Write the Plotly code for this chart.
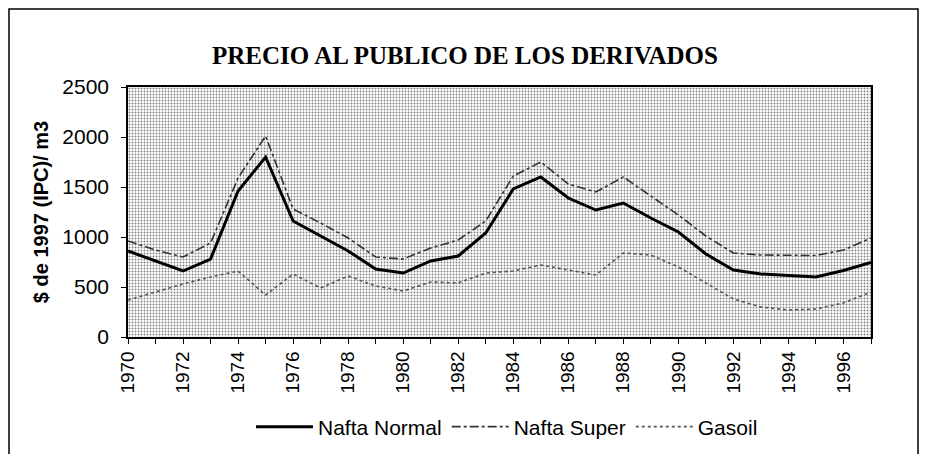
import plotly.graph_objects as go

years = list(range(1970, 1998))
nafta_normal = [860, 760, 660, 780, 1460, 1800, 1160, 1010, 860, 680, 640, 760, 810, 1040,
                1480, 1600, 1390, 1270, 1340, 1190, 1050, 830, 670, 630, 615, 600, 665, 745]
nafta_super = [960, 870, 800, 940, 1590, 2010, 1280, 1140, 990, 800, 780, 890, 970, 1160,
               1610, 1750, 1530, 1450, 1600, 1410, 1220, 1010, 840, 820, 820, 815, 870, 990]
gasoil = [370, 450, 530, 600, 660, 420, 630, 490, 610, 510, 460, 550, 540, 640,
          660, 720, 670, 620, 840, 820, 700, 540, 380, 300, 270, 280, 340, 450]
tick_years = list(range(1970, 1998, 2))
y_ticks = [0, 500, 1000, 1500, 2000, 2500]

W, H = 925, 454
ML, MR, MT, MB = 128, 54, 87, 117
x_range = [years[0], years[-1]]
y_range = [y_ticks[0], y_ticks[-1]]

fig = go.Figure()

# stippled plot-area background
fig.add_trace(go.Scatter(
    x=[x_range[0], x_range[1], x_range[1], x_range[0], x_range[0]],
    y=[y_range[0], y_range[0], y_range[1], y_range[1], y_range[0]],
    fill="toself", mode="none", showlegend=False, hoverinfo="skip",
    fillcolor="#ffffff",
    fillpattern=dict(shape=".", size=3, solidity=0.3, fgcolor="#000000", bgcolor="#ffffff"),
))

fig.add_trace(go.Scatter(x=years, y=nafta_normal, mode="lines", name="Nafta Normal",
                         line=dict(color="#000000", width=3)))
fig.add_trace(go.Scatter(x=years, y=nafta_super, mode="lines", name="Nafta Super",
                         line=dict(color="#333333", width=1.6, dash="dashdot")))
fig.add_trace(go.Scatter(x=years, y=gasoil, mode="lines", name="Gasoil",
                         line=dict(color="#555555", width=1.6, dash="dot")))

pw = W - ML - MR
ph = H - MT - MB
def px_to_paper_x(px):
    return (px - ML) / pw
def px_to_paper_y(py):
    return (H - MB - py) / ph

# outer frame of the figure
fig.add_shape(type="rect", xref="paper", yref="paper",
              x0=px_to_paper_x(9), x1=px_to_paper_x(918),
              y0=px_to_paper_y(470), y1=px_to_paper_y(9),
              line=dict(color="#000000", width=1.5), fillcolor="rgba(0,0,0,0)", layer="below")

fig.update_layout(
    width=W, height=H,
    margin=dict(l=ML, r=MR, t=MT, b=MB, autoexpand=False),
    paper_bgcolor="#ffffff", plot_bgcolor="#ffffff",
    title=dict(text="<b>PRECIO AL PUBLICO DE LOS DERIVADOS</b>",
               font=dict(family="Liberation Serif", size=25, color="#000000"),
               x=465 / W, xanchor="center", xref="container", y=1 - 55 / H, yanchor="middle", yref="container"),
    font=dict(family="Liberation Sans, Arial", color="#000000"),
    showlegend=True,
    legend=dict(orientation="h", x=px_to_paper_x(507), xanchor="center", y=px_to_paper_y(427), yanchor="middle",
                font=dict(family="Liberation Sans, Arial", size=21, color="#000000"),
                bgcolor="rgba(0,0,0,0)", itemwidth=57, tracegroupgap=0),
    xaxis=dict(range=x_range, tickmode="array", tickvals=tick_years,
               ticktext=[str(y) for y in tick_years], tickangle=-90,
               ticks="outside", ticklen=5, tickcolor="#000000",
               minor=dict(dtick=1, tick0=1970, ticks="outside", ticklen=5, tickcolor="#000000"),
               tickfont=dict(family="Liberation Sans, Arial", size=19, color="#000000"),
               showgrid=False, zeroline=False, showline=True, linecolor="#000000", linewidth=1.5,
               mirror=True, ticklabelstandoff=0),
    yaxis=dict(range=y_range, tickmode="array", tickvals=y_ticks,
               ticks="outside", ticklen=5, tickcolor="#000000",
               tickfont=dict(family="Liberation Sans, Arial", size=21, color="#000000"),
               showgrid=False, zeroline=False, showline=True, linecolor="#000000", linewidth=1.5,
               mirror=True, ticklabelstandoff=8,
               title=dict(text="<b>$ de 1997 (IPC)/ m3</b>",
                          font=dict(family="Liberation Sans, Arial", size=20, color="#000000"),
                          standoff=8)),
)

fig.write_html("out.html", config={"displayModeBar": False},
               post_script="document.body.style.margin='0';document.body.style.overflow='hidden';")
